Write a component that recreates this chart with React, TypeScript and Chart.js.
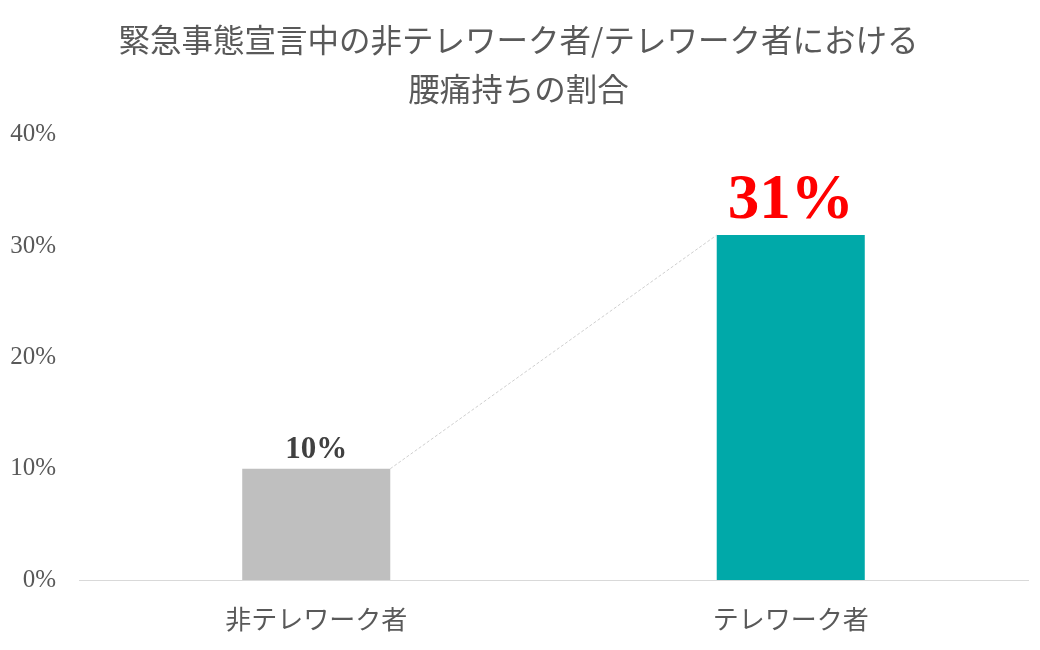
import React, { useEffect, useRef } from "react";
import { Chart, registerables } from "chart.js";

Chart.register(...registerables);

const titleLines = ["緊急事態宣言中の非テレワーク者/テレワーク者における", "腰痛持ちの割合"];
const categories = ["非テレワーク者", "テレワーク者"];
const values = [10, 31];
const barColors = ["#bfbfbf", "#00a9a9"];
const yTicks = [0, 10, 20, 30, 40];

const labelStyles = [
  { color: "#404040", size: 31, gap: 11 },
  { color: "#ff0000", size: 63, gap: 17 },
];

const connectorPlugin = {
  id: "connector",
  afterDatasetsDraw(chart: any) {
    const meta = chart.getDatasetMeta(0);
    const bars = meta.data;
    const ctx = chart.ctx;
    ctx.save();
    if (bars.length >= 2) {
      const a = bars[0];
      const b = bars[1];
      ctx.strokeStyle = "#cfcfcf";
      ctx.lineWidth = 1;
      ctx.setLineDash([3, 2]);
      ctx.beginPath();
      ctx.moveTo(a.x + a.width / 2, a.y);
      ctx.lineTo(b.x - b.width / 2, b.y);
      ctx.stroke();
      ctx.setLineDash([]);
    }
    bars.forEach((bar: any, i: number) => {
      const st = labelStyles[i];
      ctx.fillStyle = st.color;
      ctx.font = `bold ${st.size}px "Liberation Serif", "Times New Roman", serif`;
      ctx.textAlign = "center";
      ctx.textBaseline = "alphabetic";
      ctx.fillText(values[i] + "%", bar.x, bar.y - st.gap);
    });
    ctx.restore();
  },
};

export default function App() {
  const ref = useRef<HTMLCanvasElement | null>(null);
  useEffect(() => {
    if (!ref.current) return;
    const chart = new Chart(ref.current, {
      type: "bar",
      data: {
        labels: categories,
        datasets: [
          {
            data: values,
            backgroundColor: barColors,
            borderWidth: 0,
            barPercentage: 0.312,
            categoryPercentage: 1,
          },
        ],
      },
      options: {
        responsive: false,
        animation: false,
        layout: { padding: { left: 9, right: 12, top: 0, bottom: 0 } },
        plugins: {
          legend: { display: false },
          tooltip: { enabled: false },
          title: {
            display: true,
            text: titleLines,
            color: "#595959",
            font: { family: '"Noto Sans CJK JP", sans-serif', size: 31.5, weight: "normal", lineHeight: 1.57 },
            padding: { top: 15, bottom: 21 },
          },
        },
        scales: {
          x: {
            grid: { display: false, drawTicks: false },
            border: { display: true, color: "#d9d9d9", width: 1 },
            afterFit: (scale: any) => {
              scale.height = 70;
            },
            ticks: {
              color: "#595959",
              padding: 24,
              maxRotation: 0,
              font: { family: '"Noto Sans CJK JP", sans-serif', size: 26 },
            },
          },
          y: {
            min: yTicks[0],
            max: yTicks[yTicks.length - 1],
            grid: { display: false, drawTicks: false },
            border: { display: false },
            afterFit: (scale: any) => {
              scale.width = 70;
            },
            afterBuildTicks: (scale: any) => {
              scale.ticks = yTicks.map((v) => ({ value: v }));
            },
            ticks: {
              color: "#595959",
              padding: 23,
              font: { family: '"Liberation Serif", "Times New Roman", serif', size: 25 },
              callback: (v: any) => v + "%",
            },
          },
        },
      },
      plugins: [connectorPlugin],
    });
    return () => chart.destroy();
  }, []);
  return (
    <div style={{ position: "absolute", left: 0, top: 0, width: 1040, height: 650, background: "#fff" }}>
      <canvas ref={ref} width={1040} height={650} />
    </div>
  );
}
